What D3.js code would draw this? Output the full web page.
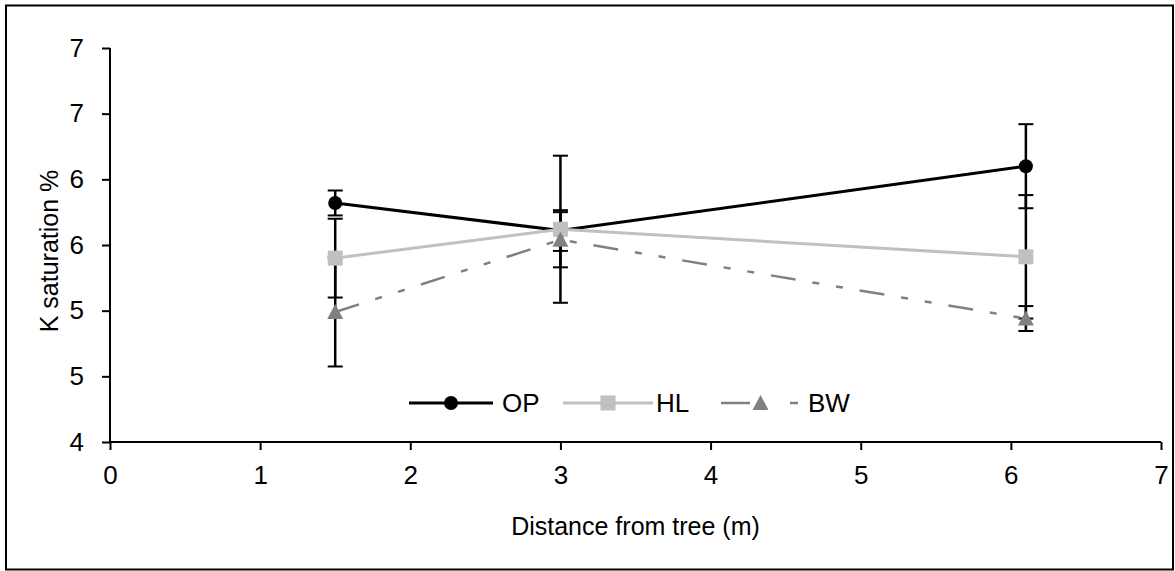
<!DOCTYPE html>
<html>
<head>
<meta charset="utf-8">
<script src="https://cdn.jsdelivr.net/npm/d3@7"></script>
<style>
  body { margin: 0; background: #fff; }
  text { font-family: "Liberation Sans", Arial, sans-serif; fill: #000; }
</style>
</head>
<body>
<div id="chart"></div>
<script>
// data
const distances = [1.5, 3, 6.1];
const seriesNames = ["OP", "HL", "BW"];
const opValues = [5.82, 5.61, 6.10];
const opErrors = [0.095, 0.155, 0.32];
const hlValues = [5.40, 5.62, 5.41];
const hlErrors = [0.30, 0.56, 0.47];
const bwValues = [4.99, 5.54, 4.94];
const bwErrors = [0.415, 0.21, 0.095];
const xTicks = [0, 1, 2, 3, 4, 5, 6, 7];
const yTicks = [4, 4.5, 5, 5.5, 6, 6.5, 7];
const yTickLabels = ["4", "5", "5", "6", "6", "7", "7"];

const width = 1175, height = 571;
const margin = { top: 48, right: 14, bottom: 129, left: 110 };

const series = [
  { name: "OP", values: opValues, errors: opErrors, color: "#000000", width: 3, dash: null, marker: "circle" },
  { name: "HL", values: hlValues, errors: hlErrors, color: "#c0c0c0", width: 3, dash: null, marker: "square" },
  { name: "BW", values: bwValues, errors: bwErrors, color: "#808080", width: 2.5, dash: "25,17,7,17,7,17", marker: "triangle" }
];

const svg = d3.select("#chart").append("svg")
  .attr("width", width)
  .attr("height", height);

// outer frame
svg.append("rect")
  .attr("x", 6).attr("y", 5.5)
  .attr("width", 1167).attr("height", 564)
  .attr("fill", "none")
  .attr("stroke", "#000")
  .attr("stroke-width", 2);

const x = d3.scaleLinear().domain([0, 7]).range([margin.left, width - margin.right]);
const y = d3.scaleLinear().domain([4, 7]).range([height - margin.bottom, margin.top]);

// axes
const xAxis = svg.append("g")
  .attr("transform", `translate(0,${y(4)})`)
  .call(d3.axisBottom(x).tickValues(xTicks).tickFormat(d3.format("d")).tickSize(8).tickPadding(16));
const yAxis = svg.append("g")
  .attr("transform", `translate(${x(0)},0)`)
  .call(d3.axisLeft(y).tickValues(yTicks).tickFormat((d, i) => yTickLabels[i]).tickSize(8).tickPadding(18));

[xAxis, yAxis].forEach(g => {
  g.select(".domain").attr("stroke", "#000").attr("stroke-width", 2);
  g.selectAll(".tick line").attr("stroke", "#000").attr("stroke-width", 2);
  g.selectAll(".tick text").attr("font-size", 26).attr("font-family", "Liberation Sans, Arial, sans-serif");
});
// remove the outer tick stubs so the axis starts right at the ticks
xAxis.select(".domain").attr("d", `M${x(0)},0H${x(7)}`);
yAxis.select(".domain").attr("d", `M0,${y(4)}V${y(7)}`);

// axis titles
svg.append("text")
  .attr("x", (x(0) + x(7)) / 2)
  .attr("y", 535)
  .attr("text-anchor", "middle")
  .attr("font-size", 25)
  .text("Distance from tree (m)");

svg.append("text")
  .attr("transform", `translate(58,${(y(4) + y(7)) / 2 + 6}) rotate(-90)`)
  .attr("text-anchor", "middle")
  .attr("font-size", 25)
  .text("K saturation %");

// error bars
const capHalf = 7.5;
series.forEach(s => {
  const g = svg.append("g").attr("class", "err-" + s.name);
  distances.forEach((d, i) => {
    const cx = x(d);
    const top = y(s.values[i] + s.errors[i]);
    const bot = y(s.values[i] - s.errors[i]);
    g.append("line").attr("x1", cx).attr("x2", cx).attr("y1", top).attr("y2", bot)
      .attr("stroke", "#000").attr("stroke-width", 2.5);
    [top, bot].forEach(yy => {
      g.append("line").attr("x1", cx - capHalf).attr("x2", cx + capHalf).attr("y1", yy).attr("y2", yy)
        .attr("stroke", "#000").attr("stroke-width", 2);
    });
  });
});

const line = d3.line().x(d => x(d[0])).y(d => y(d[1]));

function drawMarker(g, type, cx, cy, color) {
  if (type === "circle") {
    g.append("circle").attr("cx", cx).attr("cy", cy).attr("r", 7).attr("fill", color);
  } else if (type === "square") {
    g.append("rect").attr("x", cx - 7.5).attr("y", cy - 7.5).attr("width", 15).attr("height", 15).attr("fill", color);
  } else {
    g.append("path")
      .attr("d", `M${cx},${cy - 8}L${cx + 8},${cy + 7}L${cx - 8},${cy + 7}Z`)
      .attr("fill", color);
  }
}

// lines and markers
series.forEach(s => {
  const pts = distances.map((d, i) => [d, s.values[i]]);
  svg.append("path")
    .attr("d", line(pts))
    .attr("fill", "none")
    .attr("stroke", s.color)
    .attr("stroke-width", s.width)
    .attr("stroke-dasharray", s.dash);
});
series.forEach(s => {
  const g = svg.append("g");
  distances.forEach((d, i) => drawMarker(g, s.marker, x(d), y(s.values[i]), s.color));
});

// legend
const legendItems = [
  { x1: 409, x2: 493, tx: 502 },
  { x1: 563, x2: 653, tx: 656 },
  { x1: 721, x2: 800, tx: 808 }
];
const ly = 403;
series.forEach((s, i) => {
  const it = legendItems[i];
  const g = svg.append("g");
  g.append("line")
    .attr("x1", it.x1).attr("x2", it.x2).attr("y1", ly).attr("y2", ly)
    .attr("stroke", s.color).attr("stroke-width", s.width)
    .attr("stroke-dasharray", s.name === "BW" ? "29,40,8,10" : null);
  drawMarker(g, s.marker, (it.x1 + it.x2) / 2, ly, s.color);
  g.append("text")
    .attr("x", it.tx).attr("y", ly + 9)
    .attr("font-size", 26)
    .text(s.name);
});
</script>
</body>
</html>
